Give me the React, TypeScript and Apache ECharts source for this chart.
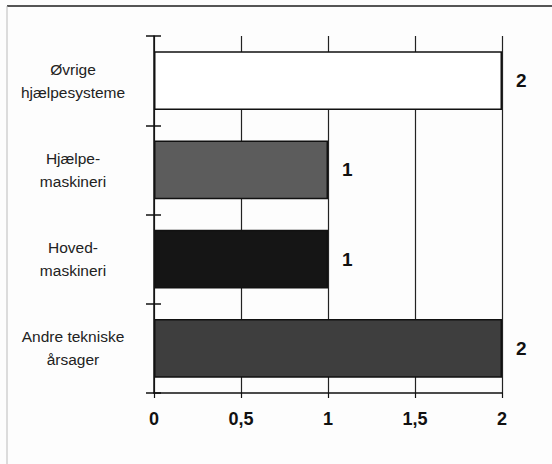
import React, { useEffect, useRef } from "react";
import * as echarts from "echarts";

const categories = ["Andre tekniske\nårsager", "Hoved-\nmaskineri", "Hjælpe-\nmaskineri", "Øvrige\nhjælpesysteme"];
const values = [2, 1, 1, 2];
const barColors = ["#3e3e3e", "#151515", "#5c5c5c", "#ffffff"];
const xTickLabels = ["0", "0,5", "1", "1,5", "2"];

export default function App() {
  const ref = useRef<HTMLDivElement>(null);
  useEffect(() => {
    if (!ref.current) return;
    const chart = echarts.init(ref.current, null, { renderer: "svg" });
    const font = "'Liberation Sans', Arial, sans-serif";
    chart.setOption({
      animation: false,
      backgroundColor: "#fdfdfd",
      grid: { left: 154, right: 50, top: 36, bottom: 71 },
      xAxis: {
        type: "value",
        min: 0,
        max: 2,
        interval: 0.5,
        axisLine: { show: true, lineStyle: { color: "#111", width: 1.5 } },
        axisTick: { show: true, length: 5, lineStyle: { color: "#111", width: 1.2 } },
        splitLine: { show: true, lineStyle: { color: "#222", width: 1.2 } },
        axisLabel: {
          margin: 17,
          fontSize: 18,
          fontWeight: "bold",
          color: "#111",
          fontFamily: font,
          formatter: (v: number) => xTickLabels[Math.round(v * 2)],
        },
      },
      yAxis: [
        {
          type: "category",
          data: categories,
          axisLine: { show: true, lineStyle: { color: "#111", width: 1.5 } },
          axisTick: { show: true, length: 8, alignWithLabel: false, lineStyle: { color: "#111", width: 1.5 } },
          axisLabel: {
            margin: 81,
            align: "center",
            fontSize: 15.5,
            lineHeight: 23,
            color: "#222",
            fontFamily: font,
          },
        },
        {
          type: "category",
          data: categories,
          position: "left",
          axisLine: { show: false },
          axisTick: { show: true, inside: true, length: 7, alignWithLabel: false, lineStyle: { color: "#111", width: 1.5 } },
          axisLabel: { show: false },
        },
      ],
      series: [
        {
          type: "bar",
          yAxisIndex: 0,
          barCategoryGap: "34%",
          data: values.map((v, i) => ({
            value: v,
            itemStyle: { color: barColors[i], borderColor: "#111", borderWidth: 1.5 },
          })),
          label: {
            show: true,
            position: "right",
            distance: 14,
            fontSize: 19,
            fontWeight: "bold",
            color: "#111",
            fontFamily: font,
          },
        },
      ],
      graphic: [
        { type: "line", shape: { x1: 7, y1: 6, x2: 552, y2: 6 }, style: { stroke: "#555", lineWidth: 2 } },
        { type: "line", shape: { x1: 7, y1: 6, x2: 7, y2: 464 }, style: { stroke: "#bbb", lineWidth: 1 } },
      ],
    });
    return () => chart.dispose();
  }, []);
  return <div ref={ref} style={{ position: "fixed", left: 0, top: 0, width: 552, height: 464 }} />;
}
